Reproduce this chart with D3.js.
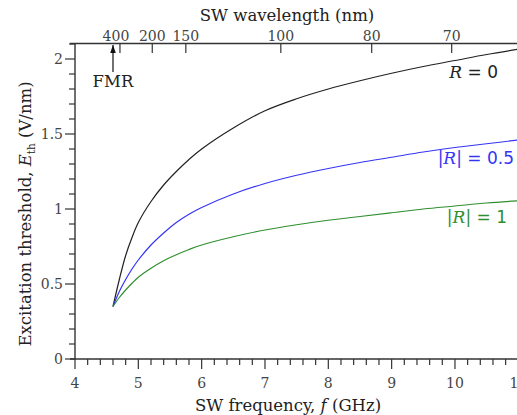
<!doctype html>
<html>
  <head>
    <meta charset="utf-8">
    <title>Excitation threshold</title>
    <script src="https://cdnjs.cloudflare.com/ajax/libs/d3/7.8.5/d3.min.js"></script>
    <style>
      body { margin: 0; background: #fff; }
      text { font-family: "DejaVu Serif", serif; fill: #222; }
    </style>
  </head>
  <body>
    <div id="chart"></div>
    <script>
      const freq = [4.6, 4.7, 4.8, 4.9, 5.0, 5.2, 5.4, 5.6, 5.8, 6.0, 6.5, 7.0, 7.5, 8.0, 8.5, 9.0, 9.5, 10.0, 10.5, 11.0];
      // threshold field (V/nm) for each reflection coefficient
      const eR0  = [0.35, 0.53, 0.69, 0.81, 0.91, 1.05, 1.16, 1.25, 1.33, 1.40, 1.54, 1.655, 1.735, 1.80, 1.855, 1.905, 1.95, 1.99, 2.03, 2.065];
      const eR05 = [0.35, 0.45, 0.53, 0.60, 0.66, 0.76, 0.84, 0.91, 0.965, 1.01, 1.10, 1.17, 1.225, 1.27, 1.31, 1.345, 1.38, 1.41, 1.435, 1.46];
      const eR1  = [0.35, 0.41, 0.46, 0.505, 0.545, 0.605, 0.655, 0.695, 0.73, 0.76, 0.815, 0.86, 0.895, 0.925, 0.95, 0.975, 1.0, 1.02, 1.04, 1.055];

      // top axis: wavelength labels and the frequency they sit at
      const waveLabels = ["400", "200", "150", "100", "80", "70"];
      const waveFreq   = [4.71, 5.22, 5.75, 7.25, 8.685, 9.948];
      const fmrFreq = 4.6;

      const xTicks = [4, 5, 6, 7, 8, 9, 10, 11];
      const yTicks = [0, 0.5, 1, 1.5, 2];

      const W = 517, H = 415;
      const svg = d3.select('#chart').append('svg')
        .attr('width', W).attr('height', H);

      const x = d3.scaleLinear().domain([4, 11]).range([75, 518.3]);
      const y = d3.scaleLinear().domain([0, 2.1]).range([359, 44]);

      const axisColor = '#333';
      const tickText = '#444';

      // minor ticks
      const xMinor = d3.range(4, 11.01, 0.2).filter(v => Math.abs(v - Math.round(v)) > 1e-6);
      const yMinor = d3.range(0, 2.101, 0.1).filter(v => Math.abs(v * 2 - Math.round(v * 2)) > 1e-6);

      const gx = svg.append('g').attr('transform', 'translate(0,359)');
      gx.selectAll('line.minor').data(xMinor).join('line')
        .attr('x1', d => x(d)).attr('x2', d => x(d))
        .attr('y1', 0).attr('y2', 6)
        .attr('stroke', axisColor).attr('stroke-width', 1.2);
      gx.selectAll('line.major').data(xTicks).join('line')
        .attr('x1', d => x(d)).attr('x2', d => x(d))
        .attr('y1', 0).attr('y2', 10)
        .attr('stroke', axisColor).attr('stroke-width', 1.2);
      gx.selectAll('text').data(xTicks).join('text')
        .attr('x', d => x(d)).attr('y', 29)
        .attr('text-anchor', 'middle')
        .style('font-size', '14px').style('fill', tickText)
        .text(d => d);
      gx.append('line').attr('x1', 70).attr('x2', W).attr('y1', 0).attr('y2', 0)
        .attr('stroke', axisColor).attr('stroke-width', 1.4);

      const gy = svg.append('g');
      gy.selectAll('line.minor').data(yMinor).join('line')
        .attr('x1', 69).attr('x2', 75)
        .attr('y1', d => y(d)).attr('y2', d => y(d))
        .attr('stroke', axisColor).attr('stroke-width', 1.2);
      gy.selectAll('line.major').data(yTicks).join('line')
        .attr('x1', 65).attr('x2', 75)
        .attr('y1', d => y(d)).attr('y2', d => y(d))
        .attr('stroke', axisColor).attr('stroke-width', 1.2);
      gy.selectAll('text').data(yTicks).join('text')
        .attr('x', 63).attr('y', d => y(d) + 5)
        .attr('text-anchor', 'end')
        .style('font-size', '14px').style('fill', tickText)
        .text(d => d);
      gy.append('line').attr('x1', 75).attr('x2', 75).attr('y1', 43.5).attr('y2', 359)
        .attr('stroke', axisColor).attr('stroke-width', 1.4);

      // top wavelength axis
      const gt = svg.append('g');
      gt.append('line').attr('x1', 70).attr('x2', W).attr('y1', 43.5).attr('y2', 43.5)
        .attr('stroke', axisColor).attr('stroke-width', 1.4);
      gt.selectAll('line.tick').data(waveFreq).join('line')
        .attr('x1', d => x(d)).attr('x2', d => x(d))
        .attr('y1', 43.5).attr('y2', 53)
        .attr('stroke', axisColor).attr('stroke-width', 1.2);
      gt.selectAll('text').data(waveLabels).join('text')
        .attr('x', (d, i) => x(waveFreq[i]))
        .attr('dx', (d, i) => i === 0 ? -4 : 0)   // "400" nudged off the "200"
        .attr('y', 41)
        .attr('text-anchor', 'middle')
        .style('font-size', '14px').style('fill', tickText)
        .text(d => d);
      svg.append('text')
        .attr('x', 287).attr('y', 21)
        .attr('text-anchor', 'middle')
        .style('font-size', '16.5px')
        .text('SW wavelength (nm)');

      // FMR marker
      svg.append('defs').append('marker')
        .attr('id', 'arr').attr('viewBox', '0 0 10 10')
        .attr('refX', 10).attr('refY', 5)
        .attr('markerWidth', 7).attr('markerHeight', 7)
        .attr('orient', 'auto')
        .append('path').attr('d', 'M0,1.5L10,5L0,8.5z').attr('fill', '#111');
      svg.append('line')
        .attr('x1', x(fmrFreq)).attr('x2', x(fmrFreq))
        .attr('y1', 72).attr('y2', 45)
        .attr('stroke', '#111').attr('stroke-width', 1.2)
        .attr('marker-end', 'url(#arr)');
      svg.append('text')
        .attr('x', x(fmrFreq)).attr('y', 87)
        .attr('text-anchor', 'middle')
        .style('font-size', '16.5px')
        .text('FMR');

      // curves
      const series = [
        { vals: eR0, color: '#222' },
        { vals: eR05, color: '#3535f5' },
        { vals: eR1, color: '#2f8f2f' }
      ];
      const line = d3.line()
        .x((d, i) => x(freq[i]))
        .y(d => y(d))
        .curve(d3.curveCatmullRom.alpha(0.5));

      svg.append('defs').append('clipPath').attr('id', 'clip')
        .append('rect').attr('x', 75).attr('y', 44).attr('width', W - 75).attr('height', 315);

      svg.append('g').attr('clip-path', 'url(#clip)')
        .selectAll('path').data(series).join('path')
        .attr('d', d => line(d.vals))
        .attr('fill', 'none')
        .attr('stroke', d => d.color)
        .attr('stroke-width', 1.2);

      // curve labels
      const lab = (xx, yy, color, abs, rest) => {
        const t = svg.append('text').attr('x', xx).attr('y', yy)
          .attr('text-anchor', 'end')
          .style('font-size', '17px').style('fill', color);
        if (abs) t.append('tspan').style('fill', color).style('font-family', 'DejaVu Sans').text('|');
        t.append('tspan').style('fill', color).style('font-style', 'italic').text('R');
        if (abs) t.append('tspan').style('fill', color).style('font-family', 'DejaVu Sans').text('|');
        t.append('tspan').style('fill', color).style('font-family', 'DejaVu Sans').text(rest);
      };
      lab(498, 78, '#222', false, ' = 0');
      lab(514, 164, '#3535f5', true, ' = 0.5');
      lab(507, 223, '#2f8f2f', true, ' = 1');

      // axis titles
      const xt = svg.append('text')
        .attr('x', 288).attr('y', 411)
        .attr('text-anchor', 'middle')
        .style('font-size', '16.5px');
      xt.append('tspan').text('SW frequency, ');
      xt.append('tspan').style('font-style', 'italic').text('f');
      xt.append('tspan').text(' (GHz)');

      const yt = svg.append('text')
        .attr('transform', 'translate(31,214) rotate(-90)')
        .attr('text-anchor', 'middle')
        .style('font-size', '16.5px');
      yt.append('tspan').text('Excitation threshold, ');
      yt.append('tspan').style('font-style', 'italic').text('E');
      yt.append('tspan').attr('dy', 4).style('font-size', '10.5px').text('th');
      yt.append('tspan').attr('dy', -4).text(' (V/nm)');
    </script>
  </body>
</html>
